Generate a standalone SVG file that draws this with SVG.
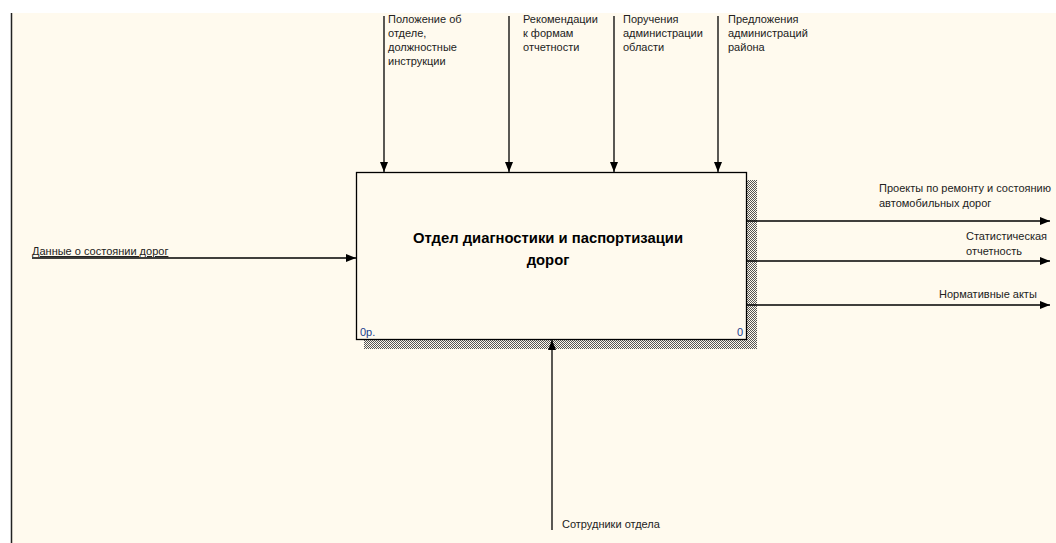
<svg xmlns="http://www.w3.org/2000/svg" width="1056" height="543" viewBox="0 0 1056 543">
  <defs>
    <pattern id="hatch" x="0" y="0" width="2" height="2" patternUnits="userSpaceOnUse">
      <rect x="0" y="0" width="2" height="2" fill="#fffaee"/>
      <rect x="0" y="0" width="1" height="1" fill="#555"/>
      <rect x="1" y="1" width="1" height="1" fill="#555"/>
    </pattern>
    <marker id="arr" viewBox="0 0 10 8" refX="10" refY="4" markerWidth="10" markerHeight="8" markerUnits="userSpaceOnUse" orient="auto">
      <path d="M0,0 L10,4 L0,8 Z" fill="#000"/>
    </marker>
    <style>
      .lbl { font-family: "Liberation Sans", Arial, sans-serif; font-size: 11px; fill: #222; }
      .title { font-family: "Liberation Sans", Arial, sans-serif; font-size: 14.8px; font-weight: bold; fill: #000; text-anchor: middle; }
      .num { font-family: "Liberation Sans", Arial, sans-serif; font-size: 11px; fill: #1a3c8c; }
      .conn { stroke: #000; stroke-width: 1.3; fill: none; marker-end: url(#arr); }
    </style>
  </defs>
  <rect x="0" y="0" width="1056" height="543" fill="#ffffff"/>
  <rect x="12" y="13" width="1044" height="530" fill="#fffaee"/>
  <line x1="11.5" y1="13" x2="11.5" y2="543" stroke="#222" stroke-width="1.5"/>

  <g id="node-A0">
    <rect x="746" y="180" width="11" height="169" fill="url(#hatch)"/>
    <rect x="364" y="340" width="393" height="9" fill="url(#hatch)"/>
    <rect x="356.5" y="172.5" width="390" height="167" fill="#fffaee" stroke="#000" stroke-width="1.3"/>
    <text class="title" x="548" y="243">Отдел диагностики и паспортизации</text>
    <text class="title" x="548" y="265">дорог</text>
    <text class="num" x="360" y="336">0р.</text>
    <text class="num" x="737" y="336">0</text>
  </g>

  <g id="connectors">
    <line class="conn" x1="384" y1="16" x2="384" y2="172"/>
    <line class="conn" x1="509" y1="16" x2="509" y2="172"/>
    <line class="conn" x1="614" y1="16" x2="614" y2="172"/>
    <line class="conn" x1="718" y1="16" x2="718" y2="172"/>
    <line class="conn" x1="32" y1="258" x2="356" y2="258"/>
    <line class="conn" x1="552" y1="530" x2="552" y2="340"/>
    <line class="conn" x1="747" y1="221" x2="1050" y2="221"/>
    <line class="conn" x1="747" y1="261" x2="1050" y2="261"/>
    <line class="conn" x1="747" y1="305" x2="1050" y2="305"/>
  </g>

  <g id="labels">
    <text class="lbl" x="388" y="23">Положение об</text>
    <text class="lbl" x="388" y="37">отделе,</text>
    <text class="lbl" x="388" y="51">должностные</text>
    <text class="lbl" x="388" y="65">инструкции</text>
    <text class="lbl" x="523" y="23">Рекомендации</text>
    <text class="lbl" x="523" y="37">к формам</text>
    <text class="lbl" x="523" y="51">отчетности</text>
    <text class="lbl" x="623" y="23">Поручения</text>
    <text class="lbl" x="623" y="37">администрации</text>
    <text class="lbl" x="623" y="51">области</text>
    <text class="lbl" x="728" y="23">Предложения</text>
    <text class="lbl" x="728" y="37">администраций</text>
    <text class="lbl" x="728" y="51">района</text>
    <text class="lbl" x="32" y="255" text-decoration="underline">Данные о состоянии дорог</text>
    <text class="lbl" x="562" y="528">Сотрудники отдела</text>
    <text class="lbl" x="879" y="192">Проекты по ремонту и состоянию</text>
    <text class="lbl" x="879" y="207">автомобильных дорог</text>
    <text class="lbl" x="966" y="240">Статистическая</text>
    <text class="lbl" x="966" y="255">отчетность</text>
    <text class="lbl" x="939" y="298">Нормативные акты</text>
  </g>
</svg>
